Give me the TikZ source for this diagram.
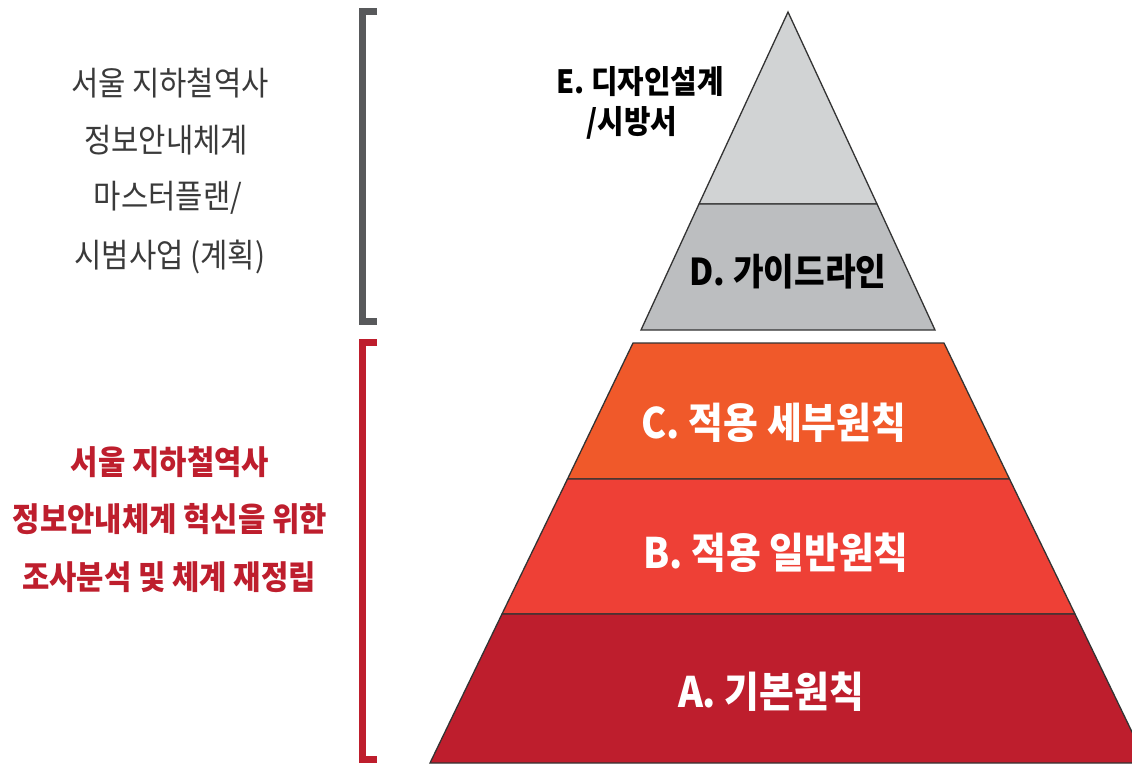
\documentclass[tikz,border=0pt]{standalone}
\usepackage{fontspec}
\newfontfamily\kr[FakeStretch=0.9]{Noto Sans CJK KR}
\definecolor{eGrey}{HTML}{D1D3D4}
\definecolor{dGrey}{HTML}{BCBEC0}
\definecolor{cOrange}{HTML}{F0592A}
\definecolor{bRed}{HTML}{EE4036}
\definecolor{aRed}{HTML}{BE1E2D}
\definecolor{brGrey}{HTML}{58595B}
\definecolor{txGrey}{HTML}{3A3A3A}
\definecolor{outline}{HTML}{333333}
\begin{document}
\begin{tikzpicture}[x=1pt,y=-1pt,
  layer/.style={draw=outline,line width=1.3pt,line join=miter},
  bracketline/.style={line width=7pt,line join=miter,line cap=butt},
  leftgrey/.style={font=\kr\fontsize{33}{33}\selectfont,text=txGrey,anchor=center,inner sep=0pt},
  leftred/.style={font=\kr\bfseries\fontsize{33}{33}\selectfont,text=aRed,anchor=center,inner sep=0pt},
  elabel/.style={font=\kr\bfseries\fontsize{32}{32}\selectfont,text=black,anchor=center,inner sep=0pt},
  pyrlabel/.style={font=\kr\bfseries\fontsize{42}{42}\selectfont,text=white,anchor=center,inner sep=0pt},
  greylabel/.style={font=\kr\bfseries\fontsize{37}{37}\selectfont,text=black,anchor=center,inner sep=0pt}]
\useasboundingbox (0,0) rectangle (1132,763);
\fill[white] (0,0) rectangle (1132,763);
\begin{scope}
\clip (0,0) rectangle (1132,763);
% upper triangle
\path[layer,fill=eGrey] (788,12) -- (877,204) -- (699,204) -- cycle;
\path[layer,fill=dGrey] (699,204) -- (877,204) -- (935,330) -- (641,330) -- cycle;
% lower trapezoid
\path[layer,fill=cOrange] (633,343) -- (944,343) -- (1009.5,479) -- (567.5,479) -- cycle;
\path[layer,fill=bRed] (567.5,479) -- (1009.5,479) -- (1075,614) -- (502,614) -- cycle;
\path[layer,fill=aRed] (502,614) -- (1075,614) -- (1147,763) -- (430,763) -- cycle;
\end{scope}
% brackets
\draw[bracketline,brGrey] (377,11.5) -- (362.5,11.5) -- (362.5,321.5) -- (377,321.5);
\draw[bracketline,aRed] (377,342.5) -- (362.5,342.5) -- (362.5,759.5) -- (377,759.5);
% left texts
\node[leftgrey] (g1) at (170,83) {서울 지하철역사};
\node[leftgrey] (g2) at (166,140) {정보안내체계};
\node[leftgrey] (g3) at (168,198) {마스터플랜/};
\node[leftgrey] (g4) at (170,257) {시범사업 (계획)};
\node[leftred] (r1) at (170,462) {서울 지하철역사};
\node[leftred] (r2) at (170,519) {정보안내체계 혁신을 위한};
\node[leftred] (r3) at (169,577) {조사분석 및 체계 재정립};
% pyramid labels
\node[elabel] (e1) at (640,82) {E. 디자인설계};
\node[elabel] (e2) at (632,123) {/시방서};
\node[greylabel] (d) at (788,272) {D. 가이드라인};
\node[pyrlabel] (c) at (774,423) {C. 적용 세부원칙};
\node[pyrlabel] (b) at (776,553) {B. 적용 일반원칙};
\node[pyrlabel] (a) at (771,692) {A. 기본원칙};
\end{tikzpicture}
\end{document}
